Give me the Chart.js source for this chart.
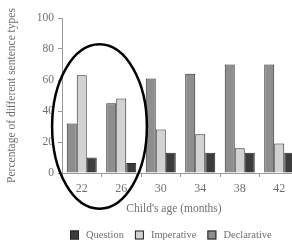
<!DOCTYPE html>
<html><head><meta charset="utf-8">
<script src="https://cdn.jsdelivr.net/npm/chart.js@4/dist/chart.umd.min.js"></script>
<style>html,body{margin:0;padding:0;overflow:hidden;background:#fff}canvas{display:block}</style>
</head><body>
<canvas id="c" width="300" height="245"></canvas>
<script>
const categories = ['22', '26', '30', '34', '38', '42'];
const declarative = [32, 45, 61, 64, 70, 70];
const imperative = [63, 48, 28, 25, 16, 19];
const question = [10, 6.5, 13, 13, 13, 13];
const yTicks = [0, 20, 40, 60, 80, 100];
const seriesNames = ['Declarative', 'Imperative', 'Question'];
const legendOrder = ['Question', 'Imperative', 'Declarative'];
const yTitle = 'Percentage of different sentence types';
const xTitle = "Child's age (months)";
// highlighted region: categories 0..1, value range
const highlight = { from: 0, to: 1, low: -23, high: 83 };

const FONT = '"Liberation Serif", "DejaVu Serif", serif';
const TXT = '#707070';
const fills = { Declarative: '#8e8e8e', Imperative: '#d2d2d2', Question: '#3c3c3c' };

const overlay = {
  id: 'overlay',
  afterDraw(chart) {
    const ctx = chart.ctx, x = chart.scales.x, y = chart.scales.y, ca = chart.chartArea;
    ctx.save();
    // ellipse highlight
    const x0 = x.getPixelForValue(highlight.from), x1 = x.getPixelForValue(highlight.to);
    const cw = x1 - x0;
    const cx = (x0 + x1) / 2 - 2;
    const yt = y.getPixelForValue(highlight.high), yb = y.getPixelForValue(highlight.low);
    ctx.beginPath();
    ctx.ellipse(cx, (yt + yb) / 2, cw * 1.2, (yb - yt) / 2, 0, 0, Math.PI * 2);
    ctx.lineWidth = 2.5; ctx.strokeStyle = '#000'; ctx.stroke();
    // y title
    ctx.fillStyle = TXT;
    ctx.font = '11.5px ' + FONT;
    ctx.textAlign = 'center'; ctx.textBaseline = 'middle';
    ctx.save();
    ctx.translate(12, (ca.top + ca.bottom) / 2); ctx.rotate(-Math.PI / 2);
    ctx.fillText(yTitle, 0, 0);
    ctx.restore();
    // x title
    ctx.font = '11.5px ' + FONT;
    ctx.fillText(xTitle, 174, 209);
    // legend
    ctx.font = '10.5px ' + FONT;
    ctx.textAlign = 'left';
    let lx = 70; const ly = 235;
    legendOrder.forEach(name => {
      ctx.fillStyle = fills[name];
      ctx.fillRect(lx, ly - 4.5, 9, 9);
      ctx.strokeStyle = '#222'; ctx.lineWidth = 1;
      ctx.strokeRect(lx + 0.5, ly - 4, 8, 8);
      ctx.fillStyle = TXT;
      ctx.fillText(name, lx + 16, ly);
      lx += 16 + ctx.measureText(name).width + 11;
    });
    ctx.restore();
  }
};

const data = {
  labels: categories,
  datasets: [
    { label: seriesNames[0], data: declarative, backgroundColor: fills.Declarative },
    { label: seriesNames[1], data: imperative, backgroundColor: fills.Imperative },
    { label: seriesNames[2], data: question, backgroundColor: fills.Question }
  ].map(d => Object.assign(d, { borderColor: '#2a2a2a', borderWidth: 1, categoryPercentage: 0.76, barPercentage: 1 }))
};

new Chart(document.getElementById('c'), {
  type: 'bar',
  data,
  options: {
    responsive: false, animation: false, devicePixelRatio: 1,
    layout: { padding: { top: 18, right: 1, bottom: 0, left: 0 } },
    plugins: { legend: { display: false }, tooltip: { enabled: false } },
    scales: {
      x: {
        afterFit(s) { s.height = 72; },
        border: { display: true, color: '#9a9a9a', width: 1 },
        grid: { display: true, offset: true, drawOnChartArea: false, drawTicks: true, tickLength: 4, color: '#9a9a9a' },
        ticks: { color: TXT, font: { family: FONT, size: 12 }, padding: 5 }
      },
      y: {
        min: 0, max: 100,
        afterFit(s) { s.width = 62; },
        afterBuildTicks(s) { s.ticks = yTicks.map(v => ({ value: v })); },
        border: { display: true, color: '#9a9a9a', width: 1 },
        grid: { display: true, drawOnChartArea: false, drawTicks: true, tickLength: 4, color: '#9a9a9a' },
        ticks: { color: TXT, font: { family: FONT, size: 11.5 }, padding: 4 }
      }
    }
  },
  plugins: [overlay]
});
</script>
</body></html>
